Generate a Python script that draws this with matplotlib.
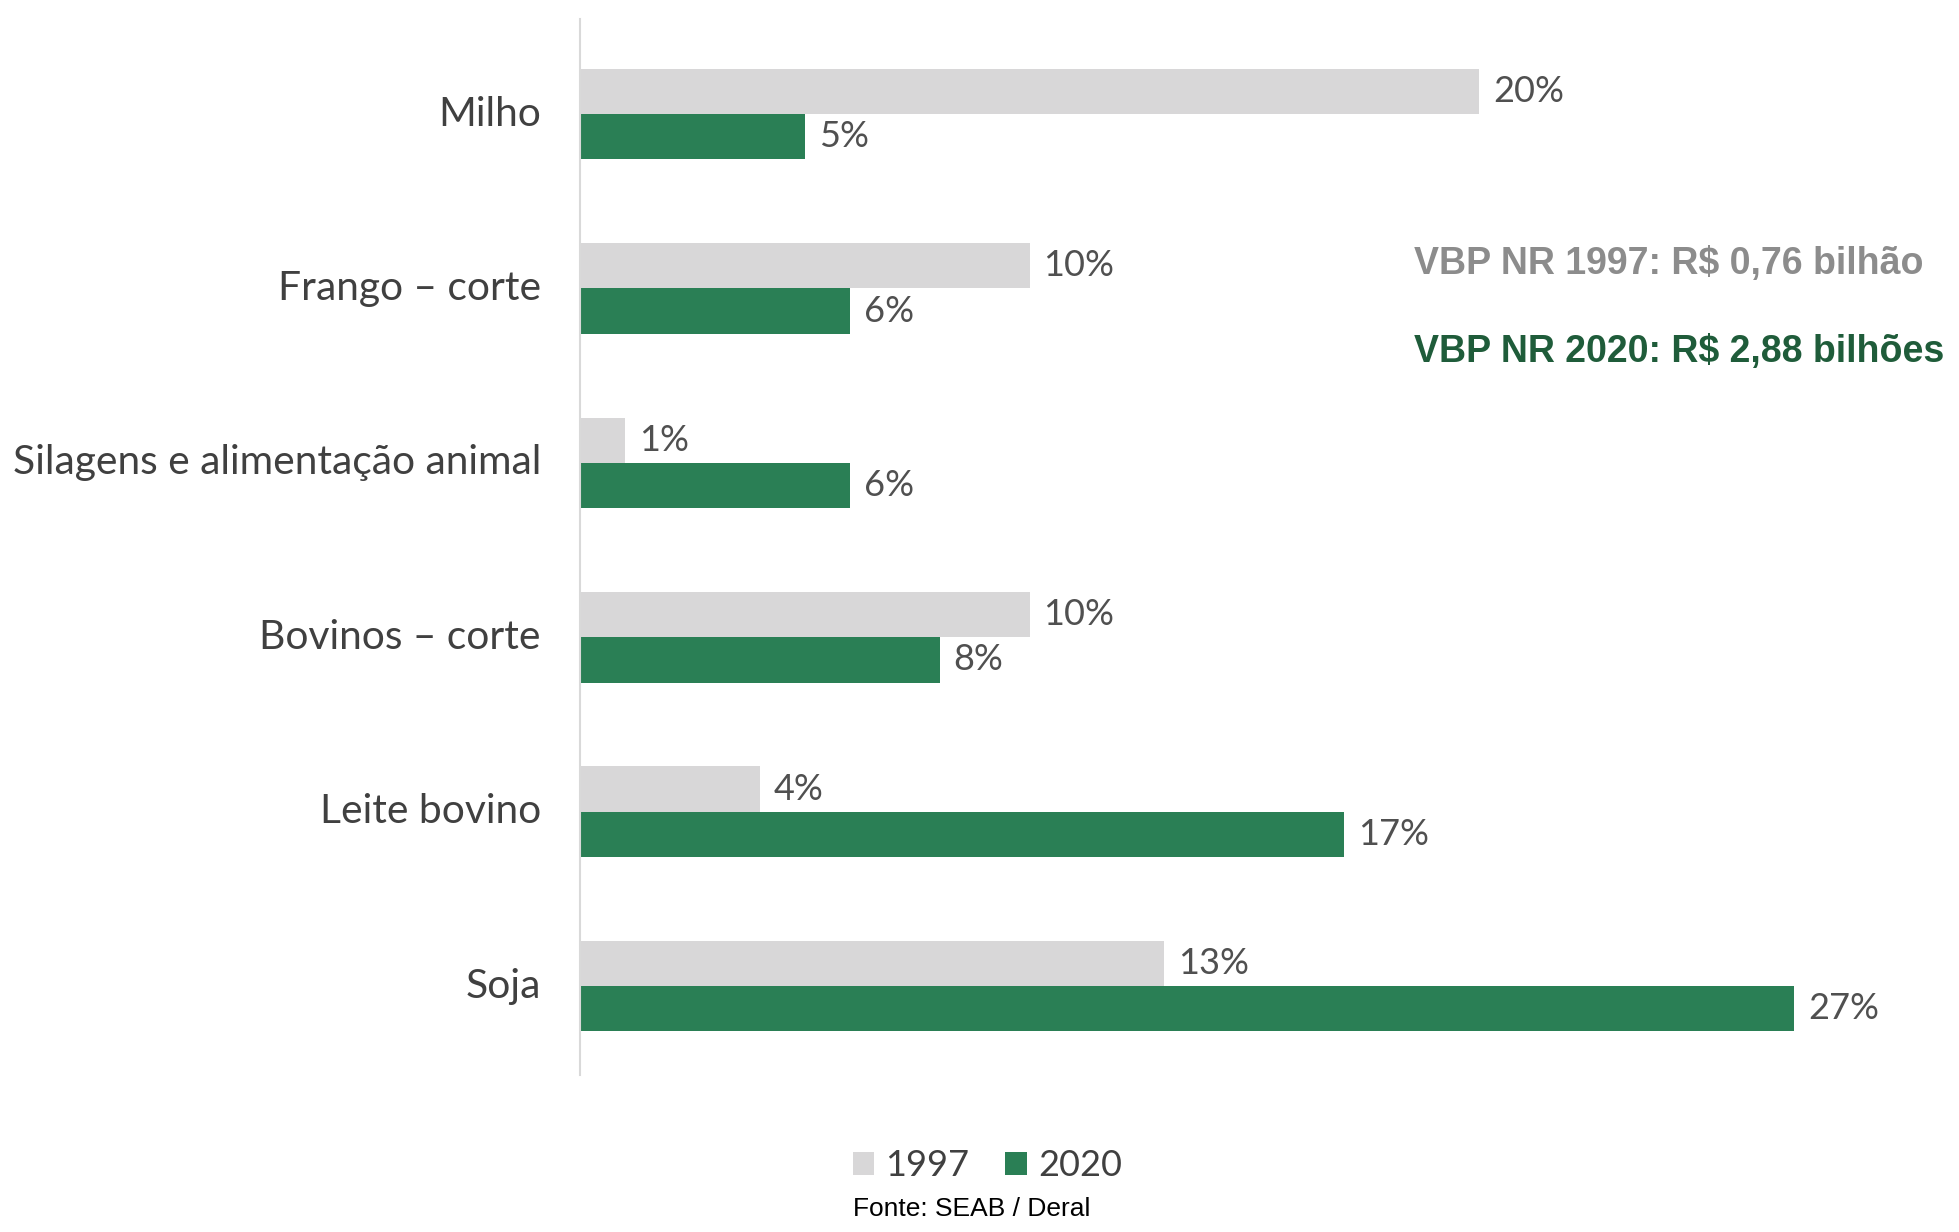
import matplotlib
matplotlib.use('Agg')
import matplotlib.pyplot as plt
import numpy as np

categories = ['Milho', 'Frango – corte', 'Silagens e alimentação animal',
              'Bovinos – corte', 'Leite bovino', 'Soja']
share_1997 = [20, 10, 1, 10, 4, 13]
share_2020 = [5, 6, 6, 8, 17, 27]
series_labels = ['1997', '2020']

GRAY = '#d8d7d8'
GREEN = '#2a7f55'
TEXT = '#404040'

fig = plt.figure(figsize=(19.59, 12.32), dpi=100)
ax = fig.add_axes([0.296, 0.1274, 0.6886, 0.8572])

y = np.arange(len(categories))
h = 0.26
b1 = ax.barh(y - h / 2, share_1997, height=h, color=GRAY, label=series_labels[0])
b2 = ax.barh(y + h / 2, share_2020, height=h, color=GREEN, label=series_labels[1])

# value labels next to each bar
for bars in (b1, b2):
    ax.bar_label(bars, labels=[f'{v}%' for v in bars.datavalues], padding=10,
                 fontsize=26, color='#505050', family='Lato')

ax.set_xlim(0, 30)
ax.set_ylim(len(categories) - 0.49, -0.545)
ax.set_yticks(y - 0.02)
ax.set_yticklabels(categories, fontsize=29.3, color=TEXT, family='Lato')
ax.tick_params(axis='y', length=0, pad=28)
ax.set_xticks([])
for s in ['top', 'right', 'bottom']:
    ax.spines[s].set_visible(False)
ax.spines['left'].set_color('#d9d9d9')
ax.spines['left'].set_linewidth(1.5)

fig.text(0.7218, 0.786, 'VBP NR 1997: R$ 0,76 bilhão', fontsize=27,
         fontweight='bold', color='#8c8c8c', family='Liberation Sans', va='center')
fig.text(0.7218, 0.714, 'VBP NR 2020: R$ 2,88 bilhões', fontsize=27,
         fontweight='bold', color='#1f5c3a', family='Liberation Sans', va='center')

leg = fig.legend(handles=[b1, b2], loc='center', bbox_to_anchor=(0.504, 0.054),
                 ncol=2, frameon=False, handlelength=0.6,
                 handleheight=0.6, handletextpad=0.3, columnspacing=1.0,
                 prop={'family': 'Lato', 'size': 26})
for t in leg.get_texts():
    t.set_color(TEXT)

fig.text(0.496, 0.019, 'Fonte: SEAB / Deral', fontsize=19, color='black',
         family='Liberation Sans', ha='center', va='center')

fig.savefig('out.png', dpi=100)
